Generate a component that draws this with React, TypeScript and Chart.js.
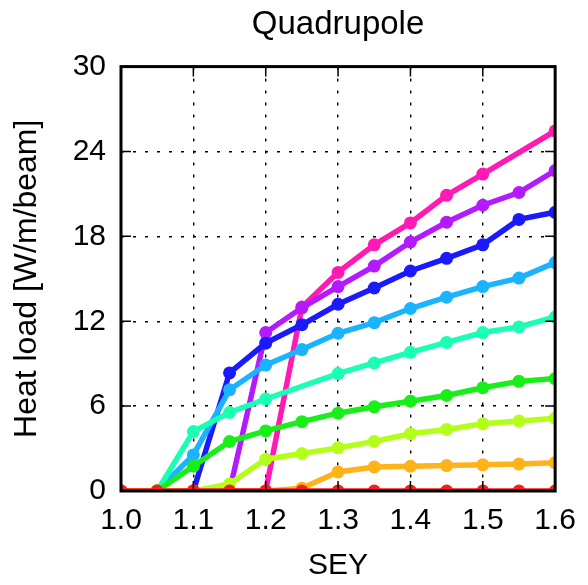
import React, { useEffect, useRef } from 'react';
import { Chart, registerables } from 'chart.js';

Chart.register(...registerables);

const sey = [1.0, 1.05, 1.1, 1.15, 1.2, 1.25, 1.3, 1.35, 1.4, 1.45, 1.5, 1.55, 1.6];

const serRed = [0, 0, 0, 0, 0, 0, 0, 0, 0, 0, 0, 0, 0];
const serOrange = [0, 0, 0, 0, 0, 0.2, 1.35, 1.7, 1.75, 1.8, 1.85, 1.9, 2.0];
const serYellowGreen = [0, 0, 0, 0.5, 2.25, 2.65, 3.05, 3.5, 4.05, 4.35, 4.75, 4.95, 5.15];
const serGreen = [0, 0, 1.75, 3.5, 4.25, 4.9, 5.5, 5.95, 6.35, 6.75, 7.3, 7.75, 7.95];
const serAqua = [0, 0, 4.2, 5.55, 6.5, null, 8.3, 9.05, 9.8, 10.5, 11.2, 11.6, 12.3];
const serLightBlue = [0, 0, 2.55, 7.15, 8.9, 10.0, 11.15, 11.9, 12.9, 13.7, 14.45, 15.05, 16.15];
const serBlue = [0, 0, 0, 8.35, 10.45, 11.75, 13.2, 14.35, 15.55, 16.45, 17.4, 19.2, 19.7];
const serPurple = [0, 0, 0, 0, 11.2, 12.95, 14.45, 15.9, 17.6, 19.0, 20.2, 21.1, 22.65];
const serPink = [0, 0, 0, 0, 0, 13.0, 15.45, 17.4, 18.95, 20.9, 22.4, null, 25.45];

const seriesList = [serRed, serOrange, serYellowGreen, serGreen, serAqua, serLightBlue, serBlue, serPurple, serPink];
const seriesColors = ['#ff1a1a', '#ffb31a', '#b3ff1a', '#1aee1a', '#1affb3', '#1ab3ff', '#1a1aff', '#b31aff', '#ff1ab3'];

const xTicks = [1.0, 1.1, 1.2, 1.3, 1.4, 1.5, 1.6];
const yTicks = [0, 6, 12, 18, 24, 30];

const titleText = 'Quadrupole';
const xTitle = 'SEY';
const yTitle = 'Heat load [W/m/beam]';

const FONT = "'Liberation Sans', Arial, sans-serif";

const framePlugin = {
  id: 'frameTicks',
  afterDatasetsDraw(chart: any) {
    const { ctx, chartArea, scales } = chart;
    const { left, right, top, bottom } = chartArea;
    const tl = 10;
    ctx.save();
    ctx.strokeStyle = '#000';
    ctx.lineWidth = 1.5;
    ctx.setLineDash([]);
    ctx.beginPath();
    scales.x.ticks.forEach((t: any) => {
      const px = scales.x.getPixelForValue(t.value);
      ctx.moveTo(px, bottom);
      ctx.lineTo(px, bottom - tl);
      ctx.moveTo(px, top);
      ctx.lineTo(px, top + tl);
    });
    scales.y.ticks.forEach((t: any) => {
      const py = scales.y.getPixelForValue(t.value);
      ctx.moveTo(left, py);
      ctx.lineTo(left + tl, py);
      ctx.moveTo(right, py);
      ctx.lineTo(right - tl, py);
    });
    ctx.stroke();
    ctx.lineWidth = 3;
    ctx.strokeRect(left, top, right - left, bottom - top);
    ctx.restore();
  },
};

export default function App() {
  const ref = useRef<HTMLCanvasElement | null>(null);

  useEffect(() => {
    if (!ref.current) return;
    const datasets = seriesList.map((s, i) => ({
      data: sey.map((x, j) => ({ x, y: s[j] })),
      borderColor: seriesColors[i],
      backgroundColor: seriesColors[i],
      pointBackgroundColor: seriesColors[i],
      pointBorderColor: seriesColors[i],
      borderWidth: 5.5,
      pointRadius: 6.5,
      pointBorderWidth: 0,
      spanGaps: true,
      clip: 0,
      tension: 0,
    }));
    const chart = new Chart(ref.current, {
      type: 'line',
      data: { datasets },
      plugins: [framePlugin],
      options: {
        animation: false,
        responsive: false,
        maintainAspectRatio: false,
        devicePixelRatio: 1,
        layout: { padding: { left: 0, right: 21, top: 0, bottom: 0 } },
        plugins: {
          legend: { display: false },
          tooltip: { enabled: false },
          title: {
            display: true,
            text: titleText,
            fullSize: false,
            color: '#000',
            font: { family: FONT, size: 33, weight: 'normal', lineHeight: 1.2 },
            padding: { top: 5, bottom: 22 },
          },
        },
        scales: {
          x: {
            type: 'linear',
            min: 1.0,
            max: 1.6,
            afterFit: (scale: any) => { scale.height = 94; },
            afterBuildTicks: (scale: any) => { scale.ticks = xTicks.map((v) => ({ value: v })); },
            ticks: {
              color: '#000',
              padding: 12,
              maxRotation: 0,
              font: { family: FONT, size: 30 },
              callback: (v: any) => Number(v).toFixed(1),
            },
            grid: { color: '#000', lineWidth: 1.4, drawTicks: false },
            border: { display: false, dash: [3, 9] },
            title: {
              display: true,
              text: xTitle,
              color: '#000',
              font: { family: FONT, size: 30, lineHeight: 1.2 },
              padding: { top: 0, bottom: 1 },
            },
          },
          y: {
            type: 'linear',
            min: 0,
            max: 30,
            afterFit: (scale: any) => { scale.width = 121; },
            afterBuildTicks: (scale: any) => { scale.ticks = yTicks.map((v) => ({ value: v })); },
            ticks: {
              color: '#000',
              padding: 15,
              font: { family: FONT, size: 30 },
            },
            grid: { color: '#000', lineWidth: 1.4, drawTicks: false },
            border: { display: false, dash: [3, 9] },
            title: {
              display: true,
              text: yTitle,
              color: '#000',
              font: { family: FONT, size: 32, lineHeight: 1.2 },
              padding: { top: 8, bottom: 0 },
            },
          },
        },
      },
    } as any);
    return () => chart.destroy();
  }, []);

  return (
    <div style={{ position: 'fixed', left: 0, top: 0, width: 588, height: 585, background: '#fff' }}>
      <canvas ref={ref} width={588} height={585} style={{ width: 588, height: 585, display: 'block' }} />
    </div>
  );
}
